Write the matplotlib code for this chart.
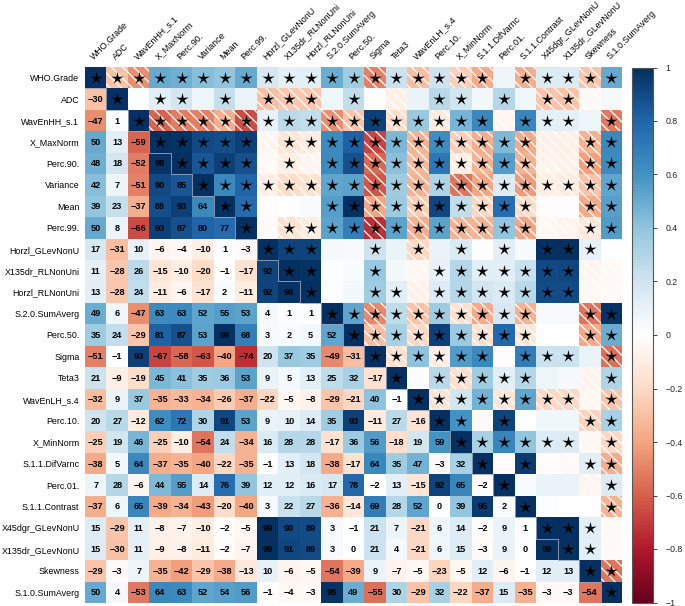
import numpy as np
import matplotlib
matplotlib.use('Agg')
import matplotlib.pyplot as plt
from matplotlib.colors import LinearSegmentedColormap
from matplotlib.patches import Rectangle
from matplotlib.path import Path

plt.rcParams['font.family'] = ['Liberation Sans', 'DejaVu Sans']
plt.rcParams['hatch.linewidth'] = 0.9

variables = ["WHO.Grade", "ADC", "WavEnHH_s.1", "X_MaxNorm", "Perc.90.", "Variance",
             "Mean", "Perc.99.", "Horzl_GLevNonU", "X135dr_RLNonUni", "Horzl_RLNonUni",
             "S.2.0.SumAverg", "Perc.50.", "Sigma", "Teta3", "WavEnLH_s.4", "Perc.10.",
             "X_MinNorm", "S.1.1.DifVarnc", "Perc.01.", "S.1.1.Contrast",
             "X45dgr_GLevNonU", "X135dr_GLevNonU", "Skewness", "S.1.0.SumAverg"]

# lower-triangle correlations (x100), row i holds columns 0..i-1
r_ADC = [-30]
r_WavEnHH_s1 = [-47, 1]
r_X_MaxNorm = [50, 13, -59]
r_Perc90 = [48, 18, -52, 98]
r_Variance = [42, 7, -51, 90, 85]
r_Mean = [39, 23, -37, 88, 93, 64]
r_Perc99 = [50, 8, -66, 93, 87, 80, 77]
r_Horzl_GLevNonU = [17, -31, 10, -6, -4, -10, 1, -3]
r_X135dr_RLNonUni = [11, -28, 26, -15, -10, -20, -1, -17, 92]
r_Horzl_RLNonUni = [13, -28, 24, -11, -6, -17, 2, -11, 92, 98]
r_S20_SumAverg = [49, 6, -47, 63, 63, 52, 55, 53, 4, 1, 1]
r_Perc50 = [35, 24, -29, 81, 87, 53, 99, 68, 3, 2, 5, 52]
r_Sigma = [-51, -1, 93, -67, -58, -63, -40, -74, 20, 37, 35, -49, -31]
r_Teta3 = [21, -9, -19, 45, 41, 35, 36, 53, 9, 5, 13, 25, 32, -17]
r_WavEnLH_s4 = [-32, 9, 37, -35, -33, -34, -26, -37, -22, -5, -8, -29, -21, 40, -1]
r_Perc10 = [20, 27, -12, 62, 72, 30, 91, 53, 9, 10, 14, 35, 93, -11, 27, -16]
r_X_MinNorm = [-25, 19, 46, -25, -10, -54, 24, -34, 16, 28, 28, -17, 36, 56, -18, 19, 59]
r_S11_DifVarnc = [-38, 5, 64, -37, -35, -40, -22, -35, -1, 13, 18, -38, -17, 64, 35, 47, -3, 32]
r_Perc01 = [7, 28, -6, 44, 55, 14, 76, 39, 12, 12, 16, 17, 78, -2, 13, -15, 92, 65, -2]
r_S11_Contrast = [-37, 6, 65, -39, -34, -43, -20, -40, 3, 22, 27, -36, -14, 69, 28, 52, 0, 39, 95, 2]
r_X45dgr_GLevNonU = [15, -29, 11, -8, -7, -10, -2, -5, 99, 90, 89, 3, -1, 21, 7, -21, 6, 14, -2, 9, 1]
r_X135dr_GLevNonU = [15, -30, 11, -9, -8, -11, -2, -7, 99, 91, 89, 3, 0, 21, 4, -21, 6, 15, -3, 9, 0, 99]
r_Skewness = [-29, -3, 7, -35, -42, -29, -38, -13, 10, -6, -5, -54, -39, 9, -7, -5, -23, -5, 12, -6, -1, 12, 13]
r_S10_SumAverg = [50, 4, -53, 64, 63, 52, 54, 56, -1, -4, -3, 98, 49, -55, 30, -29, 32, -22, -37, 15, -35, -3, -3, -54]

lower_rows = [r_ADC, r_WavEnHH_s1, r_X_MaxNorm, r_Perc90, r_Variance, r_Mean, r_Perc99,
              r_Horzl_GLevNonU, r_X135dr_RLNonUni, r_Horzl_RLNonUni, r_S20_SumAverg, r_Perc50,
              r_Sigma, r_Teta3, r_WavEnLH_s4, r_Perc10, r_X_MinNorm, r_S11_DifVarnc, r_Perc01,
              r_S11_Contrast, r_X45dgr_GLevNonU, r_X135dr_GLevNonU, r_Skewness, r_S10_SumAverg]

sig_threshold = 10  # |r|*100 at or above which a cell is marked significant

n = len(variables)
R100 = np.full((n, n), 100)
for i, row in enumerate(lower_rows, start=1):
    for j, v in enumerate(row):
        R100[i, j] = v
        R100[j, i] = v
R = R100 / 100.0

cmap = LinearSegmentedColormap.from_list(
    'corrRdBu', ["#67001F", "#B2182B", "#D6604D", "#F4A582", "#FDDBC7", "#FFFFFF",
                 "#D1E5F0", "#92C5DE", "#4393C3", "#2166AC", "#053061"], N=200)

# five-armed star marker
ang = np.pi / 2 + np.arange(10) * np.pi / 5
rad = np.where(np.arange(10) % 2 == 0, 1.0, 0.30)
star_verts = np.column_stack([rad * np.cos(ang), rad * np.sin(ang)])
star_verts = np.vstack([star_verts, star_verts[:1]])
star_marker = Path(star_verts, closed=True)

W, H = 685, 606
fig = plt.figure(figsize=(W / 100, H / 100), dpi=100)
ax = fig.add_axes([85 / W, 3 / H, 537 / W, 536 / H])

mesh = ax.pcolormesh(np.arange(n + 1), np.arange(n + 1), R, cmap=cmap, vmin=-1, vmax=1,
                     edgecolors='none')
ax.set_xlim(0, n)
ax.set_ylim(n, 0)

# lower triangle numbers
for i in range(n):
    for j in range(i):
        v = R100[i, j]
        ax.text(j + 0.5, i + 0.52, str(v).replace('-', '\u2212'), ha='center', va='center',
                fontsize=6.6, fontweight='bold', color='black')

# upper triangle: hatching for negatives, stars for significant
sx, sy = [], []
for i in range(n):
    for j in range(i, n):
        v = R100[i, j]
        if j > i and v < 0:
            ax.add_patch(Rectangle((j, i), 1, 1, facecolor='none', edgecolor='white',
                                   hatch='\\\\\\', linewidth=0))
        if abs(v) >= sig_threshold:
            sx.append(j + 0.5)
            sy.append(i + 0.5)
ax.scatter(sx, sy, marker=star_marker, s=88, c='black', linewidths=0, zorder=5)

# staircase line along the diagonal
px, py = [0], [1]
for k in range(1, n):
    px += [k, k]
    py += [k, k + 1]
ax.plot(px, py, color='#9aa6b8', lw=0.6, zorder=4)

for s in ax.spines.values():
    s.set_visible(False)
ax.set_yticks(np.arange(n) + 0.5)
ax.set_yticklabels(variables, fontsize=6.4)
ax.xaxis.tick_top()
ax.set_xticks(np.arange(n) + 0.5)
ax.set_xticklabels(variables, fontsize=6.4, rotation=45, ha='left', va='bottom',
                   rotation_mode='anchor')
ax.tick_params(axis='y', length=0, pad=4)
ax.tick_params(axis='x', length=0, pad=4)

cax = fig.add_axes([632 / W, 3.5 / H, 21 / W, 535 / H])
cb = fig.colorbar(mesh, cax=cax, ticks=np.linspace(-1, 1, 11))
cb.ax.set_yticklabels([('%g' % t).replace('-', '\u2212') for t in np.round(np.linspace(-1, 1, 11), 1)])
cb.ax.tick_params(labelsize=6.3, length=3, width=0.6, colors='#222222', pad=6)
cb.outline.set_linewidth(0.8)
cb.outline.set_edgecolor('#555555')

fig.savefig('out.png', dpi=100)
